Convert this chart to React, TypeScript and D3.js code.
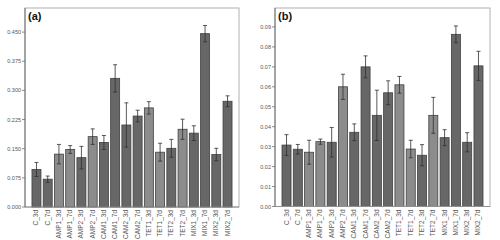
import React from "react";
import * as d3 from "d3";

const categories = ["C_3d","C_7d","AMP1_3d","AMP1_7d","AMP2_3d","AMP2_7d","CAM1_3d","CAM1_7d","CAM2_3d","CAM2_7d","TET1_3d","TET1_7d","TET2_3d","TET2_7d","MIX1_3d","MIX1_7d","MIX2_3d","MIX2_7d"];
const lightGroup = ["AMP1_3d","AMP1_7d","AMP2_7d","TET1_3d","TET1_7d","TET2_7d"];

const valuesA = [0.0966,0.0716,0.136,0.148,0.127,0.181,0.166,0.331,0.211,0.234,0.255,0.141,0.151,0.200,0.190,0.446,0.135,0.272];
const errorsA = [0.018,0.008,0.025,0.010,0.029,0.020,0.018,0.035,0.057,0.015,0.016,0.023,0.023,0.026,0.019,0.021,0.016,0.014];
const ticksA = [0,0.075,0.15,0.225,0.3,0.375,0.45];

const valuesB = [0.0308,0.0287,0.0272,0.0325,0.0322,0.060,0.0372,0.070,0.0457,0.057,0.061,0.0288,0.0257,0.0457,0.0345,0.0863,0.0322,0.0705];
const errorsB = [0.0052,0.0024,0.006,0.0013,0.0074,0.0063,0.0042,0.0055,0.0126,0.006,0.0042,0.0044,0.0053,0.009,0.004,0.0042,0.0048,0.0073];
const ticksB = [0,0.01,0.02,0.03,0.04,0.05,0.06,0.07,0.08,0.09];

type PanelProps = {
  x0: number; x1: number; y0: number; y1: number;
  values: number[]; errors: number[]; ticks: number[];
  ymax: number; fmt: string; label: string;
};

function Panel({ x0, x1, y0, y1, values, errors, ticks, ymax, fmt, label }: PanelProps) {
  const xs = d3.scaleBand<string>().domain(categories).range([x0, x1]).paddingInner(0.2).paddingOuter(0.62);
  const ys = d3.scaleLinear().domain([0, ymax]).range([y1, y0]);
  const f = d3.format(fmt);
  const bw = xs.bandwidth();
  return (
    <g>
      <rect x={x0} y={y0} width={x1 - x0} height={y1 - y0} fill="white" stroke="#b0b0b0" strokeWidth={1} />
      {categories.map((c, i) => {
        const v = values[i];
        const e = errors[i];
        const bx = xs(c)!;
        const cx = bx + bw / 2;
        const light = lightGroup.includes(c);
        return (
          <g key={c}>
            <rect x={bx} y={ys(v)} width={bw} height={ys(0) - ys(v)}
              fill={light ? "#8c8c8c" : "#676767"} stroke="#404040" strokeWidth={0.8} />
            <line x1={cx} x2={cx} y1={ys(v + e)} y2={ys(v - e)} stroke="#303030" strokeWidth={0.8} />
            <line x1={cx - 2} x2={cx + 2} y1={ys(v + e)} y2={ys(v + e)} stroke="#303030" strokeWidth={0.8} />
            <line x1={cx - 2} x2={cx + 2} y1={ys(v - e)} y2={ys(v - e)} stroke="#303030" strokeWidth={0.8} />
            <text transform={`translate(${cx + 2},${y1 + 3}) rotate(-90)`} textAnchor="end"
              fontSize={6.5} fill="#555" fontFamily="Liberation Sans, Arial, sans-serif">{c}</text>
          </g>
        );
      })}
      <line x1={x0} x2={x0} y1={y0} y2={y1} stroke="#707070" strokeWidth={1} />
      <line x1={x0} x2={x1} y1={y1} y2={y1} stroke="#909090" strokeWidth={1.2} />
      {ticks.map((t) => (
        <g key={t}>
          <line x1={x0 - 3} x2={x0} y1={ys(t)} y2={ys(t)} stroke="#707070" strokeWidth={0.8} />
          <text x={x0 - 4} y={ys(t) + 2} textAnchor="end" fontSize={5.5} fill="#555"
            fontFamily="Liberation Sans, Arial, sans-serif">{f(t)}</text>
        </g>
      ))}
      <text x={x0 + 3} y={y0 + 12} fontSize={11} fontWeight="bold" fill="#111"
        fontFamily="Liberation Sans, Arial, sans-serif">{label}</text>
    </g>
  );
}

export default function App() {
  return (
    <svg width={500} height={240} style={{ position: "absolute", left: 0, top: 0, background: "white" }}>
      <rect x={0} y={0} width={500} height={240} fill="white" />
      <Panel x0={25} x1={239} y0={8} y1={207} values={valuesA} errors={errorsA} ticks={ticksA}
        ymax={0.512} fmt=".3f" label="(a)" />
      <Panel x0={275} x1={490} y0={8} y1={206.5} values={valuesB} errors={errorsB} ticks={ticksB}
        ymax={0.0995} fmt=".2f" label="(b)" />
    </svg>
  );
}
